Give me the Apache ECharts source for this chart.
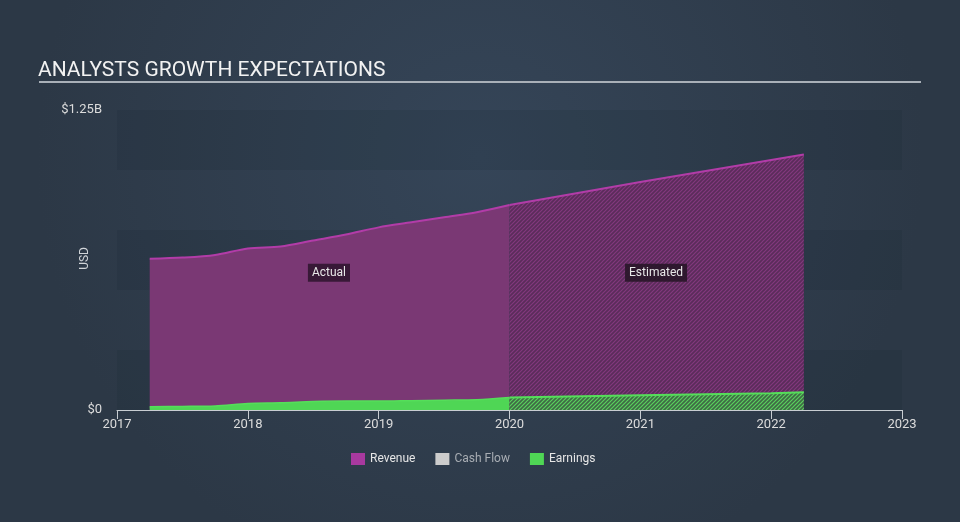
<!DOCTYPE html>
<html><head><meta charset="utf-8">
<script src="https://cdn.jsdelivr.net/npm/echarts@6/dist/echarts.min.js"></script>
<style>html,body{margin:0;padding:0;background:#2f3c4b;}#c{width:960px;height:522px;}</style>
</head><body><div id="c"></div>
<script>
// Data (values in billions USD, x = fractional year)
const actualYears   = [2017.25,2017.5,2017.75,2018.0,2018.25,2018.5,2018.75,2019.0,2019.25,2019.5,2019.75,2020.0];
const revenueActual = [0.630,0.635,0.646,0.673,0.681,0.706,0.731,0.761,0.782,0.803,0.824,0.854];
const earningsActual= [0.014,0.015,0.017,0.027,0.030,0.035,0.037,0.037,0.039,0.041,0.043,0.052];
const estYears      = [2020.0,2021.0,2022.0,2022.25];
const revenueEst    = [0.854,0.950,1.042,1.065];
const earningsEst   = [0.052,0.061,0.070,0.074];
const cashFlow      = [];
const yTickLabels   = {0:'$0', 1.25:'$1.25B'};

function pairs(xs, ys){ return xs.map((x,i)=>[x, ys[i]]); }
function hatch(bg, fg){
  const c = document.createElement('canvas');
  c.width = 4; c.height = 4;
  const g = c.getContext('2d');
  g.fillStyle = bg; g.fillRect(0,0,4,4);
  g.strokeStyle = fg; g.lineWidth = 1.2;
  g.beginPath();
  g.moveTo(0,4); g.lineTo(4,0);
  g.moveTo(-1,1); g.lineTo(1,-1);
  g.moveTo(3,5); g.lineTo(5,3);
  g.stroke();
  return {image: c, repeat: 'repeat'};
}

const chart = echarts.init(document.getElementById('c'), null, {renderer:'canvas'});
const FONT = 'Roboto, "Noto Sans", sans-serif';
chart.setOption({
  backgroundColor: {type:'radial', x:0.5, y:0.3, r:0.85,
    colorStops:[{offset:0,color:'#354558'},{offset:1,color:'#2c3846'}]},
  animation:false,
  textStyle:{fontFamily:FONT},
  title:{text:'ANALYSTS GROWTH EXPECTATIONS', left:33, top:55,
    textStyle:{color:'#f2f2f2', fontSize:21, fontWeight:'normal', fontFamily:FONT}},
  graphic:[
    {type:'rect', shape:{x:39,y:81,width:882,height:2}, style:{fill:'#a9b0b8'}},
    {type:'text', left:79, top:247, rotation:Math.PI/2, style:{text:'USD', fill:'#d0d4d8', font:'12px '+FONT}}
  ],
  grid:{left:117, right:58, top:110, bottom:112},
  legend:{
    bottom:52, left:346, icon:'rect', itemWidth:14, itemHeight:12, itemGap:20,
    selectedMode:false,
    data:[
      {name:'Revenue', textStyle:{color:'#e6e6e6'}},
      {name:'Cash Flow', textStyle:{color:'#a8adb3'}},
      {name:'Earnings', textStyle:{color:'#e6e6e6'}}
    ],
    textStyle:{fontSize:12, fontFamily:FONT}
  },
  xAxis:{type:'value', min:2017, max:2023, interval:1,
    axisLine:{lineStyle:{color:'#c8cdd2', width:1}},
    axisTick:{show:true, length:9, lineStyle:{color:'#c8cdd2'}},
    axisLabel:{color:'#dcdcdc', fontSize:13, margin:8, formatter:v=>String(v)},
    splitLine:{show:false}},
  yAxis:{type:'value', min:0, max:1.25, interval:0.25,
    axisLine:{show:false}, axisTick:{show:false},
    axisLabel:{color:'#dcdcdc', fontSize:13, margin:15,
      formatter:v=>yTickLabels[v] !== undefined ? yTickLabels[v] : ''},
    splitLine:{show:false},
    splitArea:{show:true, areaStyle:{color:['rgba(20,30,40,0.12)','rgba(0,0,0,0)']}}},
  series:[
    {name:'Revenue', type:'line', data:pairs(actualYears, revenueActual), smooth:0.3, symbol:'none',
      itemStyle:{color:'#a8399f'}, lineStyle:{color:'#b23ca8', width:2},
      areaStyle:{color:'#7a3874', opacity:1}, z:2,
      markPoint:{symbol:'rect', symbolSize:1, itemStyle:{color:'rgba(0,0,0,0)'},
        label:{show:true, formatter:'Actual', color:'#e8e8e8', fontSize:12,
          backgroundColor:'rgba(45,20,45,0.85)', padding:[3,4]},
        data:[{coord:[2018.62,0.572]}]}},
    {name:'Revenue Est', type:'line', data:pairs(estYears, revenueEst), symbol:'none',
      itemStyle:{color:'#a8399f'}, lineStyle:{color:'#b23ca8', width:2},
      areaStyle:{color:hatch('#5a2c5a','#83397e'), opacity:1}, z:2,
      markPoint:{symbol:'rect', symbolSize:1, itemStyle:{color:'rgba(0,0,0,0)'},
        label:{show:true, formatter:'Estimated', color:'#e8e8e8', fontSize:12,
          backgroundColor:'rgba(40,22,40,0.9)', padding:[3,4]},
        data:[{coord:[2021.12,0.572]}]}},
    {name:'Cash Flow', type:'line', data:cashFlow, symbol:'none', itemStyle:{color:'#cccccc'}},
    {name:'Earnings', type:'line', data:pairs(actualYears, earningsActual), smooth:0.3, symbol:'none',
      itemStyle:{color:'#4fd655'}, lineStyle:{color:'#55de5a', width:1.5},
      areaStyle:{color:'#4fd655', opacity:1}, z:3},
    {name:'Earnings Est', type:'line', data:pairs(estYears, earningsEst), symbol:'none',
      itemStyle:{color:'#4fd655'}, lineStyle:{color:'#55de5a', width:2},
      areaStyle:{color:hatch('#3f6a45','#5ad25e'), opacity:1}, z:3}
  ]
});
</script></body></html>
